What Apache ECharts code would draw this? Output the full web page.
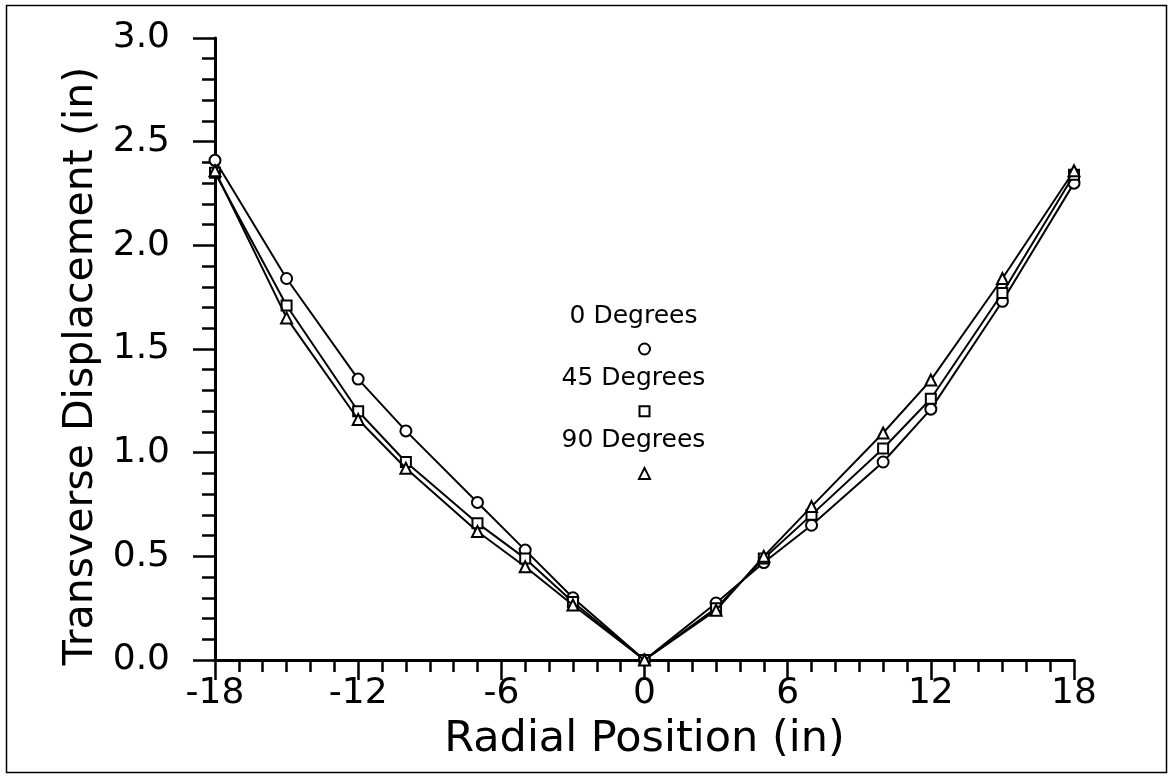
<!DOCTYPE html>
<html>
<head>
<meta charset="utf-8">
<script src="https://cdn.jsdelivr.net/npm/echarts@6/dist/echarts.min.js"></script>
<style>
  html, body { margin: 0; padding: 0; background: #fff; }
  #chart { width: 1172px; height: 778px; }
</style>
</head>
<body>
<div id="chart"></div>
<script>
// Radial positions (in) where displacement was measured
const radialPosition = [-18, -15, -12, -10, -7, -5, -3, 0, 3, 5, 7, 10, 12, 15, 18];

// Transverse displacement (in) at each radial position, per orientation
const deg0  = [2.41, 1.84, 1.355, 1.105, 0.76, 0.53, 0.30, 0, 0.275, 0.47, 0.65, 0.955, 1.21, 1.73, 2.30];
const deg45 = [2.35, 1.71, 1.20, 0.955, 0.66, 0.49, 0.28, 0, 0.25, 0.49, 0.70, 1.02, 1.26, 1.77, 2.34];
const deg90 = [2.36, 1.65, 1.16, 0.925, 0.62, 0.45, 0.265, 0, 0.24, 0.50, 0.74, 1.095, 1.35, 1.84, 2.36];

// Key entries: label text and the (x, y) spot of each key symbol
const keyNames = ['0 Degrees', '45 Degrees', '90 Degrees'];
const keyX = [0, 0, 0];
const keyY = [1.5, 1.2, 0.9];

const FONT = 'DejaVu Sans';
const symbols = ['circle', 'rect', 'triangle'];
const symbolSizes = [11, 10, 11];
const seriesData = [deg0, deg45, deg90];

const pairs = (xs, ys) => xs.map((x, i) => [x, ys[i]]);

const markerStyle = { color: '#fff', borderColor: '#000', borderWidth: 2, opacity: 1 };

const series = [];
seriesData.forEach((vals, k) => {
  series.push({
    name: keyNames[k],
    type: 'line',
    data: pairs(radialPosition, vals),
    symbol: symbols[k],
    symbolSize: symbolSizes[k],
    showAllSymbol: true,
    lineStyle: { color: '#000', width: 2 },
    itemStyle: markerStyle,
    z: 3 + k,
    animation: false
  });
  series.push({
    name: keyNames[k] + ' key',
    type: 'scatter',
    data: [[keyX[k], keyY[k]]],
    symbol: symbols[k],
    symbolSize: symbolSizes[k],
    itemStyle: markerStyle,
    label: {
      show: true,
      position: 'top',
      distance: 14,
      offset: [-11, 0],
      formatter: keyNames[k],
      color: '#000',
      opacity: 1,
      fontFamily: FONT,
      fontSize: 25
    },
    z: 6,
    animation: false
  });
});

const chart = echarts.init(document.getElementById('chart'), null, { renderer: 'canvas' });
chart.setOption({
  backgroundColor: '#fff',
  animation: false,
  grid: { left: 215, right: 98, top: 38, bottom: 118, containLabel: false },
  xAxis: {
    type: 'value',
    min: -18, max: 18, interval: 6,
    name: 'Radial Position (in)',
    nameLocation: 'middle',
    nameGap: 58,
    nameTextStyle: { fontFamily: FONT, fontSize: 43, color: '#000' },
    axisLine: { onZero: false, lineStyle: { color: '#000', width: 3 } },
    axisTick: { length: 20, lineStyle: { color: '#000', width: 2.5 } },
    minorTick: { show: true, splitNumber: 6, length: 12, lineStyle: { color: '#000', width: 2.5 } },
    axisLabel: { margin: 16, fontFamily: FONT, fontSize: 36, color: '#000' },
    splitLine: { show: false }
  },
  yAxis: {
    type: 'value',
    min: 0, max: 3, interval: 0.5,
    name: 'Transverse Displacement (in)',
    nameLocation: 'middle',
    nameGap: 112,
    nameTextStyle: { fontFamily: FONT, fontSize: 41, color: '#000', padding: [0, 34, 0, 0] },
    axisLine: { show: true, onZero: false, lineStyle: { color: '#000', width: 3 } },
    axisTick: { show: true, length: 22, lineStyle: { color: '#000', width: 2.5 } },
    minorTick: { show: true, splitNumber: 5, length: 13, lineStyle: { color: '#000', width: 2.5 } },
    axisLabel: {
      margin: 45, fontFamily: FONT, fontSize: 36, color: '#000',
      formatter: v => v.toFixed(1)
    },
    splitLine: { show: false }
  },
  graphic: [{
    type: 'rect',
    shape: { x: 6.5, y: 5.5, width: 1160, height: 767 },
    style: { fill: 'none', stroke: '#000', lineWidth: 1.5 },
    silent: true
  }],
  series: series
});
</script>
</body>
</html>
